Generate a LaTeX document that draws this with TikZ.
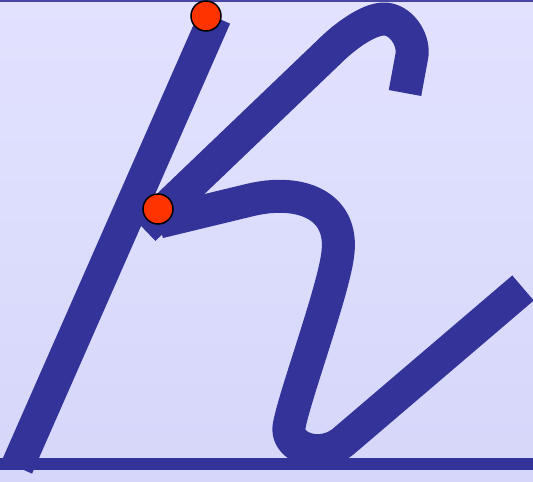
\documentclass[tikz,border=0pt]{standalone}
\definecolor{ink}{HTML}{333399}
\definecolor{dotred}{HTML}{FF3300}
\definecolor{bgtop}{RGB}{226,226,255}
\definecolor{bgbot}{RGB}{214,214,250}
\begin{document}
\begin{tikzpicture}[x=1pt,y=-1pt,
  stroke/.style={draw=ink,line width=33pt,line cap=butt,line join=round},
  dot/.style={circle,fill=dotred,draw=black,line width=1.5pt,minimum size=30pt,inner sep=0pt}]
\shade[top color=bgtop,bottom color=bgbot] (0,0) rectangle (533,482);
\useasboundingbox (0,0) rectangle (533,482);
% strokes
\draw[stroke] (215,17) -- (17,467);
\draw[stroke] (144,229) -- (330,51) .. controls (344,37) and (368,19) .. (384,19)
  .. controls (400,19) and (414,38) .. (412,55) -- (405,93);
\draw[stroke] (159,222) -- (250,200) .. controls (300,188) and (343,205) .. (338,252)
  .. controls (335,287) and (293,400) .. (289,427)
  .. controls (286,448) and (322,461) .. (345,440) -- (523,288);
% guide lines
\draw[ink!90!white,line width=3pt] (0,0.5) -- (533,0.5);
\draw[ink,line width=12pt] (0,464) -- (533,464);
% dots
\node[dot] (d1) at (206,16) {};
\node[dot] (d2) at (158,209) {};
\end{tikzpicture}
\end{document}
